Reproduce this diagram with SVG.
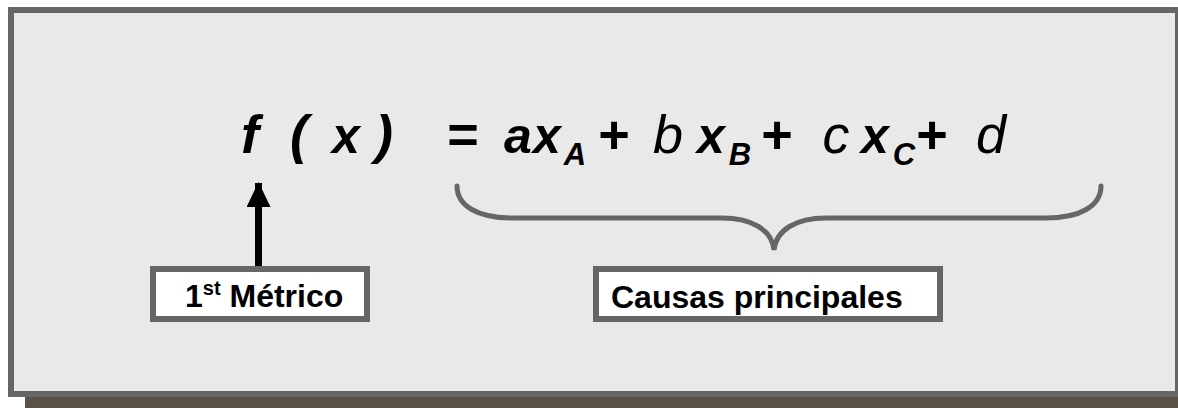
<svg xmlns="http://www.w3.org/2000/svg" width="1178" height="408" viewBox="0 0 1178 408">
<style>
.f{font-family:"Liberation Sans",Arial,sans-serif;font-style:italic;fill:#000}
.bb{font-weight:bold}
.big{font-size:54px}
.mid{font-size:50px}
.sub{font-size:31px}
.lbl{font-family:"Liberation Sans",Arial,sans-serif;font-weight:bold;font-size:32px;fill:#000}
.box{fill:#fff;stroke:#666;stroke-width:6}
</style>
<defs>
<marker id="ah" viewBox="0 0 25 24" refX="24" refY="12" markerWidth="25" markerHeight="24" markerUnits="userSpaceOnUse" orient="auto">
<path d="M0,0 L25,12 L0,24 Z" fill="#000"/>
</marker>
</defs>
<g id="frame">
<rect x="25" y="397" width="1160" height="20" fill="#5a5147"/>
<rect x="11" y="10" width="1167" height="384" fill="#e9e9e9" stroke="#666" stroke-width="6"/>
</g>
<g id="formula">
<text class="f bb big" y="153" text-anchor="middle"><tspan x="250">f</tspan></text>
<text class="f bb big" y="153" text-anchor="middle"><tspan x="299">(</tspan></text>
<text class="f bb mid" y="153" text-anchor="middle"><tspan x="346">x</tspan></text>
<text class="f bb big" y="153" text-anchor="middle"><tspan x="384">)</tspan></text>
<text class="f bb big" y="153" text-anchor="middle"><tspan x="462">=</tspan></text>
<text class="f bb mid" y="153" text-anchor="middle"><tspan x="518">a</tspan><tspan x="547">x</tspan></text>
<text class="f bb sub" y="165" text-anchor="middle"><tspan x="575">A</tspan></text>
<text class="f bb big" y="153" text-anchor="middle"><tspan x="613">+</tspan></text>
<text class="f big" y="153" text-anchor="middle"><tspan x="668">b</tspan></text>
<text class="f bb mid" y="153" text-anchor="middle"><tspan x="711">x</tspan></text>
<text class="f bb sub" y="165" text-anchor="middle"><tspan x="740">B</tspan></text>
<text class="f bb big" y="153" text-anchor="middle"><tspan x="776">+</tspan></text>
<text class="f big" y="153" text-anchor="middle"><tspan x="836">c</tspan></text>
<text class="f bb mid" y="153" text-anchor="middle"><tspan x="875">x</tspan></text>
<text class="f bb sub" y="165" text-anchor="middle"><tspan x="904">C</tspan></text>
<text class="f bb big" y="153" text-anchor="middle"><tspan x="931">+</tspan></text>
<text class="f big" y="153" text-anchor="middle"><tspan x="991">d</tspan></text>
</g>
<g id="connectors">
<line x1="258.5" y1="266" x2="258.5" y2="183" stroke="#000" stroke-width="7" marker-end="url(#ah)"/>
<path d="M457,186 C457,206 478,218 512,218 L722,218 C752,218 772,230 774,250 C776,230 796,218 826,218 L1046,218 C1080,218 1101,206 1101,186" fill="none" stroke="#666" stroke-width="5" stroke-linecap="round"/>
</g>
<g id="node-metrico">
<rect class="box" x="153" y="269" width="214" height="50"/>
<text class="lbl" x="185" y="307">1<tspan font-size="20" dy="-12">st</tspan><tspan dy="12"> Métrico</tspan></text>
</g>
<g id="node-causas">
<rect class="box" x="596" y="269" width="344" height="50"/>
<text class="lbl" x="611" y="308">Causas principales</text>
</g>
</svg>
